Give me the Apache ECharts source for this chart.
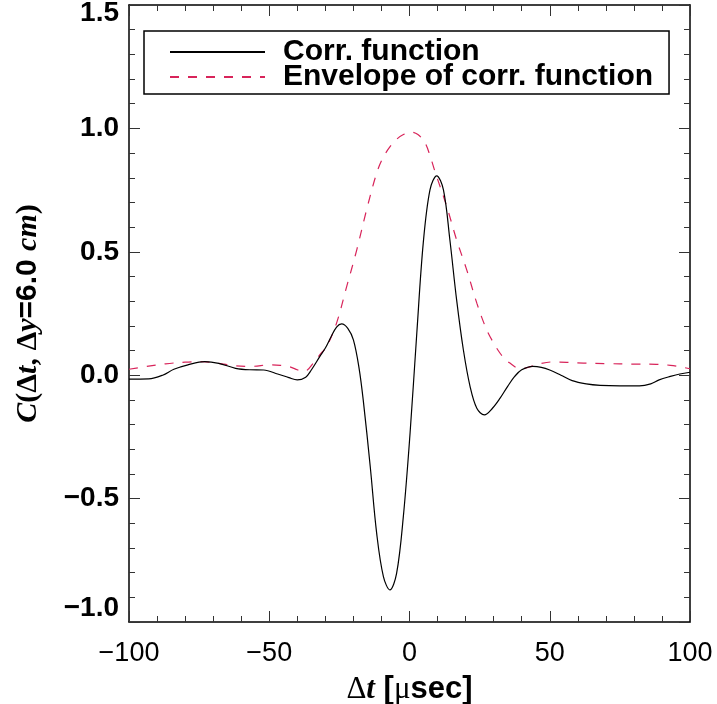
<!DOCTYPE html>
<html>
<head>
<meta charset="utf-8">
<script src="https://cdn.jsdelivr.net/npm/echarts@6/dist/echarts.min.js"></script>
<style>
html,body{margin:0;padding:0;background:#fff;}
#chart{width:717px;height:704px;}
</style>
</head>
<body>
<div id="chart"></div>
<script>
// Correlation function samples (Δt in µsec, value)
const corrT = [-100,-93,-88,-84,-79,-73,-68,-62,-57,-52,-47,-43,-40,-37,-35,-32,-30,-28,-26,-24.2,-22,-20,-18,-16.5,-14,-11.7,-9.3,-7,-4.6,-2.2,0.2,2.6,4.9,7.3,9.7,12.1,14.4,16.8,19.2,21.6,24,26.7,29.5,32.3,35,37.5,40,44,47,50,54,58,63,68,75,82,86,89,93,96.4,100];
const corrV = [-0.016,-0.015,0.000,0.024,0.042,0.055,0.048,0.028,0.022,0.021,0.005,-0.010,-0.019,-0.008,0.021,0.075,0.110,0.155,0.195,0.208,0.190,0.143,0.030,-0.100,-0.370,-0.641,-0.816,-0.870,-0.803,-0.573,-0.235,0.170,0.535,0.751,0.808,0.751,0.548,0.305,0.103,-0.046,-0.134,-0.161,-0.135,-0.093,-0.045,-0.005,0.022,0.036,0.032,0.021,0.000,-0.022,-0.035,-0.041,-0.043,-0.043,-0.035,-0.019,-0.005,0.005,0.012];
// Envelope samples
const envT = [-100,-94,-87,-80,-74,-68,-62,-56,-50,-46,-43,-40,-38.4,-36.5,-34.3,-31.5,-29.5,-26,-22.4,-18.8,-15.3,-11.7,-9.5,-7,-4.5,-2,0.5,3,5.5,7.3,9.1,13.3,16.8,20.4,24,27.5,30,32.3,34,35.8,38.2,39.4,41,44.1,47,51.3,56,62,70,80,88,93,97,100];
const envV = [0.024,0.035,0.046,0.053,0.055,0.048,0.038,0.036,0.042,0.040,0.035,0.022,0.015,0.020,0.049,0.089,0.116,0.211,0.359,0.508,0.670,0.819,0.880,0.925,0.957,0.976,0.985,0.975,0.942,0.890,0.825,0.683,0.548,0.427,0.292,0.184,0.130,0.089,0.065,0.049,0.030,0.026,0.028,0.038,0.048,0.054,0.052,0.049,0.047,0.045,0.044,0.040,0.033,0.026];
const xTicks = [-100,-50,0,50,100];
const yTicks = [-1.0,-0.5,0.0,0.5,1.0,1.5];

const fmtNum = v => (v < 0 ? '\u2212' : '') + Math.abs(v);
const fmtY = v => {
  const s = (v < 0 ? '\u2212' : '') + Math.abs(v).toFixed(1);
  if (v >= 1.5) return '{t|' + s + '}';
  if (v <= -1.0) return '{b|' + s + '}';
  return s;
};

const chart = echarts.init(document.getElementById('chart'));
const tickStyle = {color:'#333', width:1};
const baseX = {
  type:'value', min:-100, max:100, interval:50,
  axisLine:{show:true, onZero:false, lineStyle:{color:'#000', width:1.5}},
  axisTick:{show:true, inside:true, length:11, lineStyle:tickStyle},
  minorTick:{show:true, splitNumber:5, length:6, lineStyle:tickStyle},
  splitLine:{show:false}, minorSplitLine:{show:false}
};
const baseY = {
  type:'value', min:-1.0, max:1.5, interval:0.5,
  axisLine:{show:true, onZero:false, lineStyle:{color:'#000', width:1.5}},
  axisTick:{show:true, inside:true, length:11, lineStyle:tickStyle},
  minorTick:{show:true, splitNumber:5, length:6, lineStyle:tickStyle},
  splitLine:{show:false}, minorSplitLine:{show:false}
};
const serif = 'Liberation Serif';
const sans = 'Liberation Sans';
const yLabelFont = {fontFamily:sans, fontWeight:'bold', fontSize:28, color:'#000'};
chart.setOption({
  animation:false,
  backgroundColor:'#fff',
  grid:{left:129, right:27, top:5, bottom:82, containLabel:false, outerBoundsMode:'none'},
  legend:{
    show:true, orient:'vertical', left:144, top:31,
    padding:[6,16,2,25], itemGap:-5, itemWidth:95, itemHeight:14,
    borderColor:'#000', borderWidth:1.5, backgroundColor:'#fff',
    itemStyle:{opacity:0, color:'rgba(0,0,0,0)', borderWidth:0},
    textStyle:{fontFamily:sans, fontWeight:'bold', fontSize:30, color:'#000', padding:[0,0,0,13]},
    data:['Corr. function','Envelope of corr. function']
  },
  xAxis:[
    Object.assign({}, baseX, {
      position:'bottom',
      axisLabel:{show:true, margin:18, fontFamily:sans, fontSize:27, color:'#000', formatter:fmtNum},
      name:'{s|\u0394}{i|t}{b| [}{s|\u03bc}{b|sec]}', nameLocation:'middle', nameGap:52,
      nameTextStyle:{rich:{
        s:{fontFamily:serif, fontSize:31, color:'#000'},
        i:{fontFamily:serif, fontStyle:'italic', fontWeight:'bold', fontSize:31, color:'#000'},
        b:{fontFamily:sans, fontWeight:'bold', fontSize:31, color:'#000'}
      }}
    }),
    Object.assign({}, baseX, {position:'top', axisLabel:{show:false}})
  ],
  yAxis:[
    Object.assign({}, baseY, {
      position:'left',
      axisLabel:Object.assign({show:true, margin:10, formatter:fmtY,
        rich:{
          t:Object.assign({padding:[16,0,0,0]}, yLabelFont),
          b:Object.assign({padding:[0,0,28,0]}, yLabelFont)
        }}, yLabelFont),
      name:'{i|C}{s|(\u0394}{i|t}{s|, \u0394}{i|y}{b|=6.0 }{i|cm}{s|)}', nameLocation:'middle', nameGap:86, nameRotate:90,
      nameTextStyle:{rich:{
        s:{fontFamily:serif, fontWeight:'bold', fontSize:30, color:'#000'},
        i:{fontFamily:serif, fontStyle:'italic', fontWeight:'bold', fontSize:30, color:'#000'},
        b:{fontFamily:sans, fontWeight:'bold', fontSize:30, color:'#000'}
      }}
    }),
    Object.assign({}, baseY, {position:'right', axisLabel:{show:false}})
  ],
  series:[
    {
      name:'Corr. function', type:'line', xAxisIndex:0, yAxisIndex:0,
      data: corrT.map((t,i)=>[t, corrV[i]]),
      showSymbol:false, symbol:'none', smooth:0.35, z:3,
      lineStyle:{color:'#000', width:1.2, type:'solid'},
      itemStyle:{color:'#000'}
    },
    {
      name:'Envelope of corr. function', type:'line', xAxisIndex:0, yAxisIndex:0,
      data: envT.map((t,i)=>[t, envV[i]]),
      showSymbol:false, symbol:'none', smooth:0.35, z:2,
      lineStyle:{color:'#d8245a', width:1.2, type:[9,9]},
      itemStyle:{color:'#d8245a'}
    }
  ]
});
</script>
</body>
</html>
